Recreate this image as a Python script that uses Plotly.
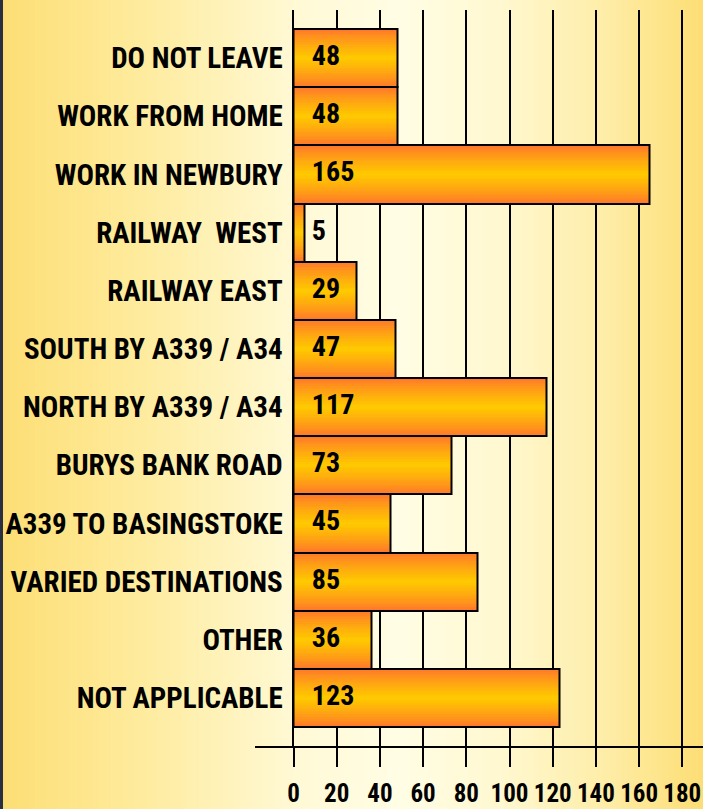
import plotly.graph_objects as go

categories = ["DO NOT LEAVE", "WORK FROM HOME", "WORK IN NEWBURY", "RAILWAY  WEST",
              "RAILWAY EAST", "SOUTH BY A339 / A34", "NORTH BY A339 / A34",
              "BURYS BANK ROAD", "A339 TO BASINGSTOKE", "VARIED DESTINATIONS",
              "OTHER", "NOT APPLICABLE"]
values = [48, 48, 165, 5, 29, 47, 117, 73, 45, 85, 36, 123]
tick_values = [0, 20, 40, 60, 80, 100, 120, 140, 160, 180]

W, H = 703, 809
FONT = "Roboto Condensed, Open Sans Condensed, Liberation Sans"
x0px, pxper = 293.5, 2.16
xmax = (W - x0px) / pxper
top_px, bot_px = 10, 747

def lerp(c1, c2, t):
    return tuple(c1[i] + (c2[i] - c1[i]) * t for i in range(3))

def rgb(c):
    return "rgb(%d,%d,%d)" % tuple(round(v) for v in c)

fig = go.Figure()

# layered bars to emulate vertical gradient
edge = (255, 118, 44)
center = (255, 200, 0)
K = 18
for k in range(K):
    w = 1 - k / K
    t = (k / (K - 1)) ** 0.8
    fig.add_trace(go.Bar(
        x=values, y=categories, orientation="h", width=w,
        marker=dict(color=rgb(lerp(edge, center, t)), line=dict(width=0)),
        hoverinfo="skip", showlegend=False))
# outline
fig.add_trace(go.Bar(
    x=values, y=categories, orientation="h", width=1,
    marker=dict(color="rgba(0,0,0,0)", line=dict(color="black", width=2)),
    hoverinfo="skip", showlegend=False))

fig.add_trace(go.Scatter(
    x=[8.5] * len(values), y=categories, mode="text",
    text=[str(v) for v in values], textposition="middle right",
    textfont=dict(family=FONT, size=28, color="black", weight="bold"),
    showlegend=False, hoverinfo="skip"))

# background gradient strips
shapes = []
stops = [(0, (253, 222, 116)), (150, (254, 236, 160)), (300, (255, 249, 214)),
         (400, (255, 253, 228)), (500, (255, 248, 208)), (600, (254, 238, 170)),
         (703, (253, 222, 116))]
N = 120
for i in range(N):
    xa = i * W / N
    xm = xa + W / N / 2
    for j in range(len(stops) - 1):
        if stops[j][0] <= xm <= stops[j + 1][0]:
            t = (xm - stops[j][0]) / (stops[j + 1][0] - stops[j][0])
            c = lerp(stops[j][1], stops[j + 1][1], t)
            break
    shapes.append(dict(type="rect", xref="paper", yref="paper",
                       x0=xa / W, x1=(xa + W / N + 0.6) / W, y0=0, y1=1,
                       fillcolor=rgb(c), line=dict(width=0), layer="below"))
# axis line extension to the left
shapes.append(dict(type="line", xref="paper", yref="paper",
                   x0=255 / W, x1=1, y0=1 - bot_px / H, y1=1 - bot_px / H,
                   line=dict(color="black", width=2), layer="above"))
# left border
shapes.append(dict(type="line", xref="paper", yref="paper",
                   x0=1.5 / W, x1=1.5 / W, y0=0, y1=1,
                   line=dict(color="#2b3040", width=3), layer="above"))

slot = (727 - 29) / 12
top_units = (29 - top_px) / slot
bot_units = (bot_px - 727) / slot

fig.update_layout(
    width=W, height=H, barmode="overlay", bargap=0,
    margin=dict(l=0, r=0, t=0, b=0, autoexpand=False),
    paper_bgcolor="rgba(0,0,0,0)", plot_bgcolor="rgba(0,0,0,0)",
    shapes=shapes, showlegend=False, hovermode=False,
    xaxis=dict(domain=[x0px / W, 1], range=[0, xmax], tickvals=tick_values,
               automargin=False, tickangle=0,
               showgrid=True, gridcolor="black", gridwidth=2, zeroline=False,
               ticks="outside", ticklen=19, tickwidth=2, tickcolor="black",
               showline=False,
               tickfont=dict(family=FONT, size=25, color="black", weight="bold"),
               ticklabelstandoff=5),
    yaxis=dict(domain=[1 - bot_px / H, 1 - top_px / H], automargin=False,
               categoryorder="array", categoryarray=categories,
               range=[11.5 + bot_units, -0.5 - top_units],
               showline=True, linecolor="black", linewidth=2,
               showgrid=False, ticks="", ticklabelstandoff=3,
               tickfont=dict(family=FONT, size=29, color="black", weight="bold")),
)

fig.write_html("out.html", config={"displayModeBar": False},
               post_script="document.body.style.margin='0';document.body.style.overflow='hidden';")
